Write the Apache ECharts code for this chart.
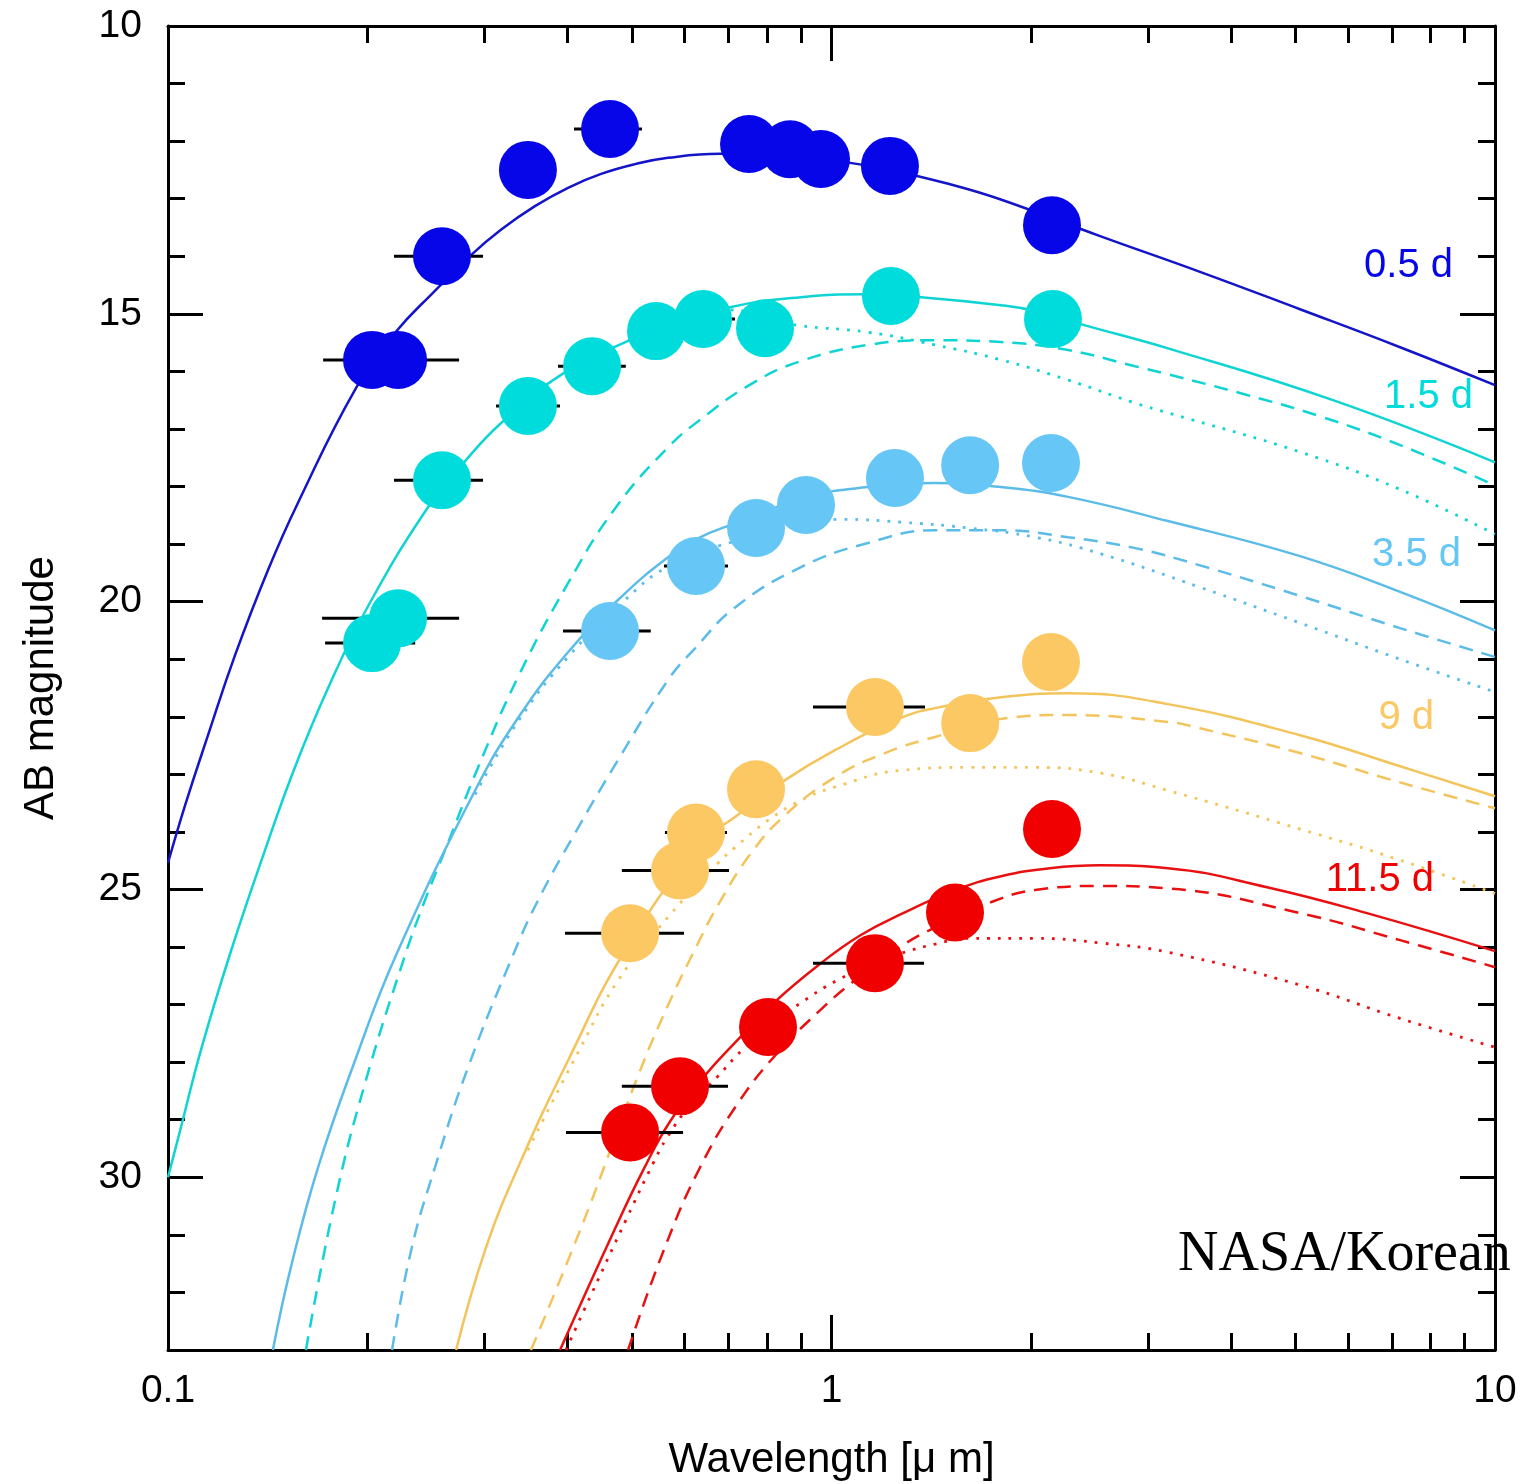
<!DOCTYPE html>
<html>
<head>
<meta charset="utf-8">
<title>AB magnitude vs wavelength</title>
<script src="https://cdn.jsdelivr.net/npm/echarts/dist/echarts.min.js"></script>
<style>
  html, body { margin: 0; padding: 0; background: #ffffff; }
  #chart { width: 1520px; height: 1484px; }
</style>
</head>
<body>
<div id="chart"></div>
<script>
// ---------- axis ticks ----------
const xMajorTicks = [0.1, 1, 10];
const xMinorTicks = [0.2, 0.3, 0.4, 0.5, 0.6, 0.7, 0.8, 0.9, 2, 3, 4, 5, 6, 7, 8, 9];
const yMajorTicks = [10, 15, 20, 25, 30];
const yMinorTicks = [11, 12, 13, 14, 16, 17, 18, 19, 21, 22, 23, 24, 26, 27, 28, 29, 31, 32];

// ---------- epochs ----------
const epochLabels = ['0.5 d', '1.5 d', '3.5 d', '9 d', '11.5 d'];
const epochColors = ['#0606e8', '#00dcdc', '#66c6f6', '#fcc864', '#f00000'];
const lineColors  = ['#1414c8', '#10d4d4', '#5cbce8', '#f4c45c', '#e81010'];

// ---------- model curves: [wavelength (µm), AB mag] ----------
const model05dSolid = [
  [0.1, 24.54], [0.1061, 23.54], [0.1149, 22.32], [0.1262, 20.93], [0.1415, 19.45],
  [0.1569, 18.29], [0.1920, 16.29], [0.2199, 15.33], [0.2525, 14.60], [0.2862, 13.98],
  [0.3175, 13.54], [0.3573, 13.13], [0.4008, 12.81], [0.4495, 12.57], [0.5057, 12.40],
  [0.5671, 12.29], [0.679, 12.22], [0.8364, 12.24], [1.0, 12.33], [1.2249, 12.50],
  [1.5087, 12.75], [1.7952, 13.01], [2.5398, 13.65], [3.5924, 14.27], [5.083, 14.92],
  [7.1938, 15.58], [10, 16.24]
];

const model15dSolid = [
  [0.1, 30.00], [0.1046, 29.13], [0.1121, 27.79], [0.1245, 26.06], [0.1400, 24.32],
  [0.1553, 22.88], [0.1743, 21.50], [0.2002, 20.08], [0.2465, 18.36], [0.2804, 17.56],
  [0.3175, 16.90], [0.3912, 16.06], [0.4936, 15.47], [0.5671, 15.20], [0.7056, 14.88],
  [0.8996, 14.71], [1.1233, 14.66], [1.3644, 14.71], [1.8014, 14.85], [2.0263, 14.95],
  [2.4108, 15.20], [3.2146, 15.60], [5.699, 16.50], [10, 17.58]
];
const model15dDashed = [
  [0.1614, 33.0], [0.1786, 30.40], [0.1981, 28.37], [0.2277, 26.14], [0.2439, 25.19],
  [0.2615, 24.32], [0.2933, 22.88], [0.3369, 21.31], [0.4008, 19.68], [0.4719, 18.38],
  [0.5671, 17.32], [0.6358, 16.83], [0.7564, 16.22], [0.8996, 15.82], [1.1351, 15.54],
  [1.4322, 15.46], [1.8014, 15.49], [2.2725, 15.63], [2.8671, 15.91], [3.2146, 16.05],
  [4.229, 16.41], [5.449, 16.78], [7.1938, 17.28], [10, 17.98]
];
const model15dDotted = [
  [0.5671, 15.20], [0.7056, 14.93], [0.7939, 15.07], [0.8902, 15.20], [1.1351, 15.32],
  [1.4322, 15.54], [1.8014, 15.80], [2.2725, 16.15], [2.8671, 16.55], [3.2146, 16.72],
  [5.083, 17.40], [7.1938, 18.05], [10, 18.83]
];

const model35dSolid = [
  [0.1439, 33.0], [0.1532, 31.56], [0.1683, 29.83], [0.1914, 27.97], [0.2207, 26.14],
  [0.2903, 23.28], [0.3369, 22.02], [0.4008, 20.88], [0.4818, 19.92],
  [0.5671, 19.23], [0.6292, 18.90], [0.7155, 18.64], [0.9217, 18.18], [1.1351, 18.01],
  [1.4322, 17.94], [1.8014, 18.01], [2.2725, 18.18], [3.2146, 18.60], [5.083, 19.21],
  [7.1938, 19.83], [10, 20.50]
];
const model35dDashed = [
  [0.2176, 33.0], [0.2325, 31.27], [0.2525, 29.83], [0.2833, 28.09], [0.3334, 26.06],
  [0.3611, 25.19], [0.4107, 24.02], [0.4768, 22.75], [0.5671, 21.36], [0.6228, 20.81],
  [0.7155, 20.10], [0.8996, 19.40], [1.1351, 18.98], [1.4322, 18.76], [1.8014, 18.76],
  [2.2725, 18.88], [2.8671, 19.07], [3.5924, 19.37], [5.083, 19.90], [7.1938, 20.46],
  [10, 20.96]
];
const model35dDotted = [
  [0.2903, 23.35], [0.3369, 22.08], [0.4008, 20.96], [0.4885, 19.97], [0.5651, 19.40],
  [0.6814, 19.02], [1.0335, 18.57], [1.2726, 18.62], [1.6068, 18.72], [2.0263, 18.88],
  [2.5486, 19.17], [3.5924, 19.75], [5.083, 20.37], [7.1938, 21.00], [10, 21.57]
];

const model9dSolid = [
  [0.2718, 33.0], [0.3005, 31.27], [0.3369, 29.83], [0.4008, 27.97], [0.4885, 26.06],
  [0.6358, 24.20], [0.7155, 23.74], [0.851, 23.10], [1.0122, 22.58], [1.2726, 22.02],
  [1.4322, 21.85], [1.8014, 21.66], [2.2725, 21.59], [3.2146, 21.78], [5.083, 22.32],
  [7.1938, 22.86], [10, 23.38]
];
const model9dDashed = [
  [0.3524, 33.0], [0.4252, 30.70], [0.5093, 28.28], [0.5671, 27.01], [0.6271, 25.97],
  [0.6745, 25.27], [0.7564, 24.37], [0.851, 23.71], [1.0122, 23.05], [1.2039, 22.63],
  [1.4322, 22.35], [1.8456, 22.02], [2.2725, 21.97], [3.2146, 22.09], [3.5924, 22.20],
  [5.083, 22.63], [7.1938, 23.14], [10, 23.59]
];
const model9dDotted = [
  [0.3487, 29.53], [0.415, 27.83], [0.4768, 26.58], [0.5671, 25.48], [0.6745, 24.54],
  [0.7155, 24.27], [0.8023, 23.80], [0.8996, 23.45], [1.0122, 23.22], [1.2726, 22.93],
  [1.6068, 22.88], [2.0263, 22.88], [2.5486, 22.98], [3.2146, 23.28], [5.083, 23.95],
  [7.1938, 24.49], [10, 25.07]
];

const model115dSolid = [
  [0.3898, 33.0], [0.4719, 30.89], [0.52, 29.88], [0.571, 29.03], [0.6447, 28.23],
  [0.7281, 27.57], [0.8164, 26.98], [0.9543, 26.32], [1.104, 25.80], [1.2726, 25.43],
  [1.5351, 25.01], [1.8014, 24.77], [2.1346, 24.63], [2.5398, 24.58], [3.2146, 24.63],
  [4.5334, 24.96], [6.413, 25.41], [10, 26.07]
];
const model115dDashed = [
  [0.4936, 33.0], [0.5573, 31.30], [0.6336, 29.83], [0.7281, 28.66], [0.8364, 27.79],
  [0.9609, 27.10], [1.07, 26.63], [1.2726, 25.99], [1.4322, 25.66], [1.7219, 25.24],
  [2.0263, 25.01], [2.5486, 24.94], [3.2146, 24.98], [5.083, 25.41], [7.1938, 25.88],
  [10, 26.35]
];
const model115dDotted = [
  [0.398, 33.0], [0.4236, 32.31], [0.4919, 30.70], [0.5383, 29.76], [0.5651, 29.31],
  [0.6118, 28.75], [0.6722, 28.26], [0.7331, 27.79], [0.8081, 27.36], [0.8963, 26.98],
  [1.0193, 26.58], [1.143, 26.32], [1.2726, 26.11], [1.4322, 25.95], [1.6068, 25.85],
  [2.0263, 25.85], [2.5486, 25.93], [3.2146, 26.09], [5.083, 26.66], [7.1938, 27.24],
  [10, 27.74]
];

// ---------- photometry: [wavelength (µm), AB mag] ----------
const phot05d = [
  [0.203, 15.80], [0.2222, 15.80], [0.2588, 14.00], [0.3487, 12.50], [0.4637, 11.79],
  [0.7511, 12.05], [0.8659, 12.14], [0.9642, 12.31], [1.2249, 12.43], [2.1494, 13.46]
];
const phot15d = [
  [0.203, 20.72], [0.2222, 20.29], [0.2588, 17.89], [0.3487, 16.60], [0.4357, 15.91],
  [0.5439, 15.30], [0.6403, 15.09], [0.7939, 15.25], [1.2292, 14.69], [2.1569, 15.09]
];
const phot35d = [
  [0.4637, 20.51], [0.6249, 19.38], [0.7696, 18.72], [0.9153, 18.32], [1.2464, 17.85],
  [1.618, 17.63], [2.142, 17.59]
];
const phot9d = [
  [0.4971, 25.76], [0.5912, 24.67], [0.6249, 24.01], [0.7696, 23.26], [1.1628, 21.83],
  [1.618, 22.11], [2.142, 21.05]
];
const phot115d = [
  [0.4971, 29.22], [0.5912, 28.42], [0.8023, 27.39], [1.1628, 26.28], [1.5351, 25.40],
  [2.1494, 23.95]
];

// ---------- filter widths: [lower µm, upper µm, AB mag] ----------
const err05d = [[0.1713, 0.2746, 15.80], [0.2191, 0.2984, 14.00], [0.4092, 0.518, 11.79]];
const err15d = [
  [0.1725, 0.2358, 20.72], [0.1707, 0.2746, 20.29], [0.2191, 0.2984, 17.89],
  [0.3122, 0.3898, 16.60], [0.3871, 0.4898, 15.91], [0.5748, 0.7155, 15.09]
];
const err35d = [[0.3939, 0.5341, 20.51], [0.5591, 0.6983, 19.38]];
const err9d = [
  [0.3966, 0.5993, 25.76], [0.4831, 0.7006, 24.67], [0.561, 0.6958, 24.01], [0.9378, 1.3835, 21.83]
];
const err115d = [[0.398, 0.5974, 29.22], [0.4831, 0.6983, 28.42], [0.9378, 1.3787, 26.28]];

// ---------- assemble ----------
const FONT = '"Liberation Sans", Arial, Helvetica, sans-serif';
const DASHED = [14, 9];
const DOTTED = [2.8, 8];

const epochs = [
  { solid: model05dSolid, dashed: null, dotted: null, phot: phot05d, err: err05d },
  { solid: model15dSolid, dashed: model15dDashed, dotted: model15dDotted, phot: phot15d, err: err15d },
  { solid: model35dSolid, dashed: model35dDashed, dotted: model35dDotted, phot: phot35d, err: err35d },
  { solid: model9dSolid, dashed: model9dDashed, dotted: model9dDotted, phot: phot9d, err: err9d },
  { solid: model115dSolid, dashed: model115dDashed, dotted: model115dDotted, phot: phot115d, err: err115d }
];

function curve(name, data, color, type) {
  return {
    name: name, type: 'line', data: data,
    xAxisIndex: 0, yAxisIndex: 0,
    symbol: 'none', showSymbol: false,
    smooth: 0.45,
    lineStyle: { color: color, width: type === DOTTED ? 2.8 : 2.5, type: type },
    silent: true, z: 2
  };
}

function errorBars(name, data) {
  return {
    name: name, type: 'custom', data: data,
    xAxisIndex: 0, yAxisIndex: 0,
    encode: { x: [0, 1], y: 2 },
    renderItem: function (params, api) {
      const a = api.coord([api.value(0), api.value(2)]);
      const b = api.coord([api.value(1), api.value(2)]);
      return {
        type: 'line',
        shape: { x1: a[0], y1: a[1], x2: b[0], y2: b[1] },
        style: { stroke: '#000', lineWidth: 3 }
      };
    },
    silent: true, z: 3
  };
}

const series = [];
epochs.forEach(function (ep, i) {
  const c = lineColors[i];
  if (ep.dotted) series.push(curve(epochLabels[i] + ' dotted', ep.dotted, c, DOTTED));
  if (ep.dashed) series.push(curve(epochLabels[i] + ' dashed', ep.dashed, c, DASHED));
  series.push(curve(epochLabels[i] + ' model', ep.solid, c, 'solid'));
});
epochs.forEach(function (ep, i) {
  series.push(errorBars(epochLabels[i] + ' width', ep.err));
});
epochs.forEach(function (ep, i) {
  series.push({
    name: epochLabels[i], type: 'scatter', data: ep.phot,
    xAxisIndex: 0, yAxisIndex: 0,
    symbol: 'circle', symbolSize: 58,
    itemStyle: { color: epochColors[i], opacity: 1, borderWidth: 0 },
    silent: true, z: 4
  });
});

const tickLine = { color: '#000', width: 3 };
const frameLine = { show: true, onZero: false, lineStyle: { color: '#000', width: 3 } };
const noLine = { show: false, onZero: false };

function xAxis(position, line, ticks, len, labels) {
  return {
    type: 'log', logBase: 10, min: 0.1, max: 10, position: position,
    axisLine: line,
    axisTick: { show: true, inside: true, length: len, customValues: ticks, lineStyle: tickLine },
    axisLabel: labels || { show: false },
    splitLine: { show: false }, minorTick: { show: false }, minorSplitLine: { show: false }
  };
}
function yAxis(position, line, ticks, len, labels) {
  return {
    type: 'value', inverse: true, min: 10, max: 33, position: position,
    axisLine: line,
    axisTick: { show: true, inside: true, length: len, customValues: ticks, lineStyle: tickLine },
    axisLabel: labels || { show: false },
    splitLine: { show: false }, minorTick: { show: false }, minorSplitLine: { show: false }
  };
}

const xBottom = xAxis('bottom', frameLine, xMajorTicks, 35, {
  show: true, customValues: xMajorTicks, margin: 22,
  formatter: function (v) { return String(+Number(v).toPrecision(3)); },
  fontSize: 39, color: '#000', fontFamily: FONT
});
xBottom.name = 'Wavelength [μ m]';
xBottom.nameLocation = 'middle';
xBottom.nameGap = 89;
xBottom.nameTextStyle = { fontSize: 42, color: '#000', fontFamily: FONT };

const yLeft = yAxis('left', frameLine, yMajorTicks, 35, {
  show: true, customValues: yMajorTicks, margin: 26,
  formatter: function (v) { return String(v); },
  fontSize: 39, color: '#000', fontFamily: FONT
});
yLeft.name = 'AB magnitude';
yLeft.nameLocation = 'middle';
yLeft.nameGap = 106;
yLeft.nameTextStyle = { fontSize: 42, color: '#000', fontFamily: FONT };

const labelPos = [[1453, 266], [1473, 397], [1461, 555], [1434, 718], [1434, 880]];
const graphic = epochLabels.map(function (t, i) {
  return {
    type: 'text', x: labelPos[i][0], y: labelPos[i][1], z: 10,
    style: { text: t, fill: epochColors[i], font: '40px ' + FONT, align: 'right', verticalAlign: 'middle' }
  };
});
graphic.push({
  type: 'text', x: 1178, y: 1255, z: 10,
  style: { text: 'NASA/Korean', fill: '#000', font: '56px "Liberation Serif", "Times New Roman", serif', align: 'left', verticalAlign: 'middle' }
});

const chart = echarts.init(document.getElementById('chart'), null, { renderer: 'canvas' });
chart.setOption({
  backgroundColor: '#ffffff',
  animation: false,
  grid: { left: 168, right: 25, top: 26, bottom: 134, containLabel: false, outerBoundsMode: 'none' },
  xAxis: [
    xBottom,
    xAxis('bottom', noLine, xMinorTicks, 17),
    xAxis('top', frameLine, [1], 35),
    xAxis('top', noLine, xMinorTicks, 17)
  ],
  yAxis: [
    yLeft,
    yAxis('left', noLine, yMinorTicks, 17),
    yAxis('right', frameLine, yMajorTicks, 35),
    yAxis('right', noLine, yMinorTicks, 17)
  ],
  graphic: graphic,
  series: series
});
</script>
</body>
</html>
